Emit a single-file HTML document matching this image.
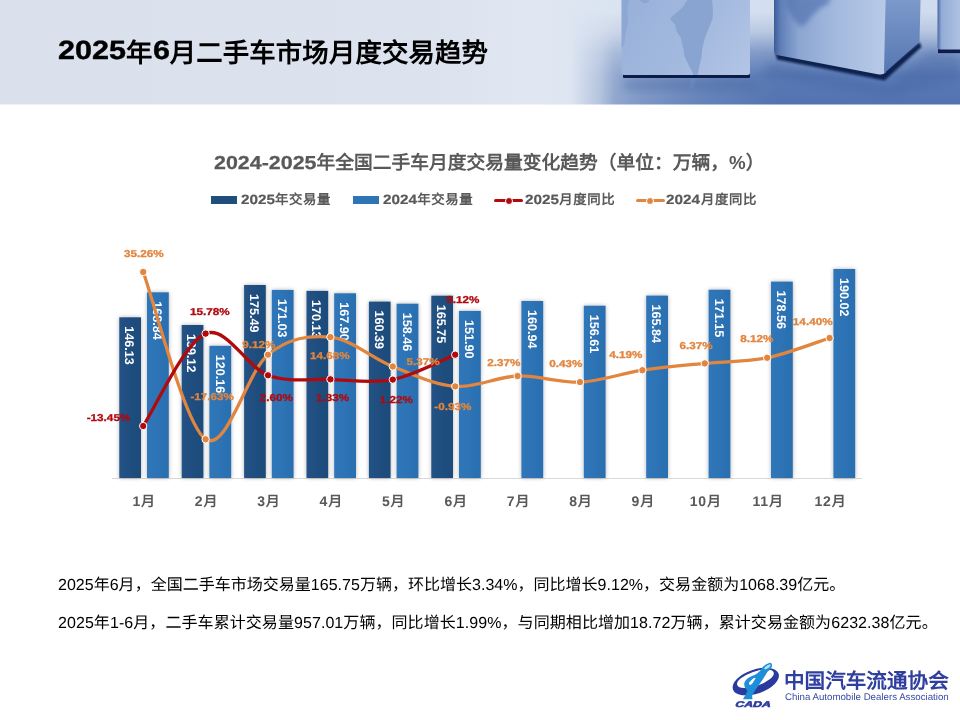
<!DOCTYPE html>
<html lang="zh-CN">
<head>
<meta charset="utf-8">
<title>2025年6月二手车市场月度交易趋势</title>
<style>
html,body{margin:0;padding:0;}
body{width:960px;height:720px;position:relative;overflow:hidden;background:#fff;font-family:"Liberation Sans",sans-serif;color:#000;text-rendering:geometricPrecision;}
b{font-weight:inherit;}
.hdr{position:absolute;left:0;top:0;width:960px;height:105px;overflow:hidden;}
.hdr svg{position:absolute;left:0;top:0;}
h1{position:absolute;left:58px;top:35.2px;letter-spacing:0.15px;margin:0;font-size:26.4px;line-height:36px;font-weight:bold;white-space:nowrap;}
.ctitle{position:absolute;left:214.2px;top:150px;margin:0;font-size:18.75px;line-height:26px;font-weight:bold;color:#595959;white-space:nowrap;}
.legend{position:absolute;top:190.8px;left:0;height:18px;font-size:13.4px;letter-spacing:0.6px;line-height:18px;font-weight:bold;color:#595959;white-space:nowrap;}
.legend span{position:absolute;top:0;}
.legend i{position:absolute;display:block;}
.chart{position:absolute;left:0;top:0;}
.b25{fill:url(#g25);} .b24{fill:url(#g24);}
.bl{font:bold 12.6px "Liberation Sans",sans-serif;fill:#fff;}
.l24{fill:none;stroke:#e1853f;stroke-width:3.3;stroke-linecap:round;stroke-linejoin:round;}
.l25{fill:none;stroke:#b00a0e;stroke-width:3.3;stroke-linecap:round;stroke-linejoin:round;}
.m24{fill:#e1853f;stroke:#fff;stroke-width:1;} .m25{fill:#b00a0e;stroke:#fff;stroke-width:1;}
.y24{font:bold 10px "Liberation Sans",sans-serif;fill:#e1853f;stroke:#e1853f;stroke-width:0.3px;text-anchor:middle;}
.y25{font:bold 10px "Liberation Sans",sans-serif;fill:#b00a0e;stroke:#b00a0e;stroke-width:0.3px;text-anchor:middle;}
.cat{font:bold 14px "Liberation Sans",sans-serif;fill:#595959;text-anchor:middle;letter-spacing:0.8px;}
p{position:absolute;left:58px;margin:0;font-size:16px;line-height:24px;white-space:nowrap;}
.logo{position:absolute;left:725px;top:655px;}
.lcn{position:absolute;left:784.2px;top:668.4px;font-family:"Liberation Serif",serif;font-weight:bold;font-size:20.6px;line-height:28px;color:#2e3f9f;white-space:nowrap;}
.len{position:absolute;left:785px;top:691.2px;font-size:9.7px;line-height:14px;color:#3a4ca6;white-space:nowrap;}
b{display:inline-block;transform-origin:0 50%;letter-spacing:0;}
h1 b{transform:scaleX(1.157);position:relative;top:-3px;-webkit-text-stroke:0.4px #000;} .ctitle b{transform:scaleX(1.143);margin-right:12.8px;-webkit-text-stroke:0.25px #595959;} .legend b{transform:scaleX(1.14);margin-right:4.8px;-webkit-text-stroke:0.2px #595959;}
h1,.ctitle,.legend,p,.lcn,.len,.chart,.logo{will-change:transform;}
</style>
</head>
<body>
<div class="hdr">
<svg width="960" height="105" viewBox="0 0 960 105">
<defs>
<linearGradient id="hb" x1="0" y1="0" x2="960" y2="0" gradientUnits="userSpaceOnUse"><stop offset="0" stop-color="#dbe1ec"/><stop offset="0.45" stop-color="#dce3ee"/><stop offset="0.56" stop-color="#e0e7f2"/><stop offset="0.62" stop-color="#dbe4f1"/><stop offset="0.8" stop-color="#d3deef"/><stop offset="1" stop-color="#cfdbee"/></linearGradient>
<linearGradient id="mh" x1="0" y1="0" x2="960" y2="0" gradientUnits="userSpaceOnUse"><stop offset="0.595" stop-color="#000"/><stop offset="0.625" stop-color="#484848"/><stop offset="0.64" stop-color="#888"/><stop offset="0.667" stop-color="#adadad"/><stop offset="0.73" stop-color="#dcdcdc"/><stop offset="0.81" stop-color="#fff"/></linearGradient>
<linearGradient id="mv" x1="0" y1="0" x2="0" y2="105" gradientUnits="userSpaceOnUse"><stop offset="0.12" stop-color="#000" stop-opacity="1"/><stop offset="0.3" stop-color="#000" stop-opacity="0.8"/><stop offset="0.5" stop-color="#000" stop-opacity="0.35"/><stop offset="0.72" stop-color="#000" stop-opacity="0.06"/><stop offset="1" stop-color="#000" stop-opacity="0"/></linearGradient>
<mask id="fm" maskUnits="userSpaceOnUse" x="0" y="0" width="960" height="105"><rect width="960" height="105" fill="url(#mh)"/><rect width="960" height="105" fill="url(#mv)"/></mask>
<linearGradient id="c1" x1="621" y1="0" x2="750" y2="75" gradientUnits="userSpaceOnUse"><stop offset="0" stop-color="#98b0d9"/><stop offset="0.6" stop-color="#a4badf"/><stop offset="1" stop-color="#b2c5e5"/></linearGradient>
<linearGradient id="c2" x1="774" y1="0" x2="886" y2="0" gradientUnits="userSpaceOnUse"><stop offset="0" stop-color="#3c5b98"/><stop offset="0.06" stop-color="#5f7fb8"/><stop offset="0.22" stop-color="#8ca6d2"/><stop offset="0.55" stop-color="#a3b9de"/><stop offset="1" stop-color="#b9cae8"/></linearGradient>
<linearGradient id="c2s" x1="0" y1="0" x2="0" y2="75" gradientUnits="userSpaceOnUse"><stop offset="0" stop-color="#7c99ca"/><stop offset="1" stop-color="#5576b2"/></linearGradient>
<linearGradient id="c3" x1="937" y1="0" x2="960" y2="0" gradientUnits="userSpaceOnUse"><stop offset="0" stop-color="#3f5f9c"/><stop offset="0.2" stop-color="#93acd6"/><stop offset="1" stop-color="#adc1e2"/></linearGradient>
<filter id="bl5" x="-20%" y="-50%" width="140%" height="200%"><feGaussianBlur stdDeviation="4"/></filter>
<filter id="bl1" x="-5%" y="-50%" width="110%" height="200%"><feGaussianBlur stdDeviation="0.8"/></filter>
<filter id="bl2" x="-10%" y="-10%" width="120%" height="120%"><feGaussianBlur stdDeviation="0.7"/></filter>
<filter id="bl3" x="-20%" y="-20%" width="140%" height="140%"><feGaussianBlur stdDeviation="2.5"/></filter>
<filter id="bl05" x="-5%" y="-50%" width="110%" height="200%"><feGaussianBlur stdDeviation="0.5"/></filter>
</defs>
<rect width="960" height="105" fill="url(#hb)"/>
<rect width="960" height="105" fill="#5273b0" mask="url(#fm)"/>
<path d="M770,62 L890,86 L930,50 L960,56 L960,80 L890,96 L760,76 Z" fill="#3b5d9d" opacity="0.3" filter="url(#bl5)"/>
<path d="M622,80 L752,80 L760,90 L625,90 Z" fill="#43649f" opacity="0.35" filter="url(#bl5)"/>
<!-- cube 1 -->
<rect x="623" y="73.5" width="127" height="4.4" rx="1" fill="#0c1c45" filter="url(#bl05)"/>
<rect x="621.6" y="-6" width="128.4" height="81" rx="2.5" fill="url(#c1)"/>
<g fill="#89a4d1" filter="url(#bl2)">
<path d="M688,-1 L682.5,7.5 L671.3,17 L670.3,19.7 L675,24.4 L676.9,31.9 L680.6,37.5 L683.4,48.8 L684.4,56.3 L688,63.8 L691.9,71.3 L693.5,75 L697.6,75 L699.4,65.6 L701.3,58 L702.2,48.8 L705,37.5 L708.8,28 L712.5,18.8 L713,11 L712,-1 Z"/>
<path d="M621.6,-1 L629,-1 L627.5,10 L628,22 L626,32 L624,45 L621.6,48 Z" opacity="0.7"/>
<path d="M639,-1 L650,-1 L648,2.5 L643,3.5 Z" opacity="0.8"/>
</g>
<path d="M691,78 L697,78 L694,87 L689,89 Z" fill="#6f8fc4" opacity="0.4" filter="url(#bl2)"/>
<!-- cube 2 -->
<path d="M775,51 L882,73 L919.5,42 L921.5,47 L884.5,80.5 L777,59.5 Z" fill="#0f2150" filter="url(#bl1)"/>
<path d="M774,-2 L774,50 Q774,54.5 778,55.3 L879,74.4 Q883,75 885.5,72.5 L885.6,-2 Z" fill="url(#c2)"/>
<path d="M885.6,-2 L884,73.5 L919.5,41.6 L920.6,-2 Z" fill="url(#c2s)"/>
<path d="M784,-4 L832,-4 L828,4 L820,8 L812,16 L806,24 L800,27 L794,20 L788,10 Z" fill="#5677b3" opacity="0.75" filter="url(#bl3)"/>
<!-- cube 3 -->
<rect x="938" y="47.5" width="24" height="5.6" fill="#0e1f49" filter="url(#bl05)"/>
<rect x="937.5" y="-6" width="30" height="55.5" rx="2.5" fill="url(#c3)"/>
<rect x="0" y="104" width="960" height="1" fill="#fff" opacity="0.5"/>
</svg>

</div>
<h1><b style="margin-right:9.3px">2025</b>年<b style="margin-right:2.4px">6</b>月二手车市场月度交易趋势</h1>
<div class="ctitle"><b>2024-2025</b>年全国二手车月度交易量变化趋势（单位：万辆，%）</div>
<div class="legend">
<i style="left:211.2px;top:5px;width:25.5px;height:8px;background:#1f4e7d"></i><span style="left:240.5px"><b>2025</b>年交易量</span>
<i style="left:353px;top:5px;width:25.8px;height:8px;background:#2e75b6"></i><span style="left:382.7px"><b>2024</b>年交易量</span>
<i style="left:494.2px;top:8.2px;width:28.8px;height:3px;background:#b00a0e;border-radius:2px"></i><i style="left:505.6px;top:6.7px;width:6px;height:6px;border-radius:50%;background:#b00a0e;border:1px solid #fff;margin:-1px"></i><span style="left:524.7px"><b>2025</b>月度同比</span>
<i style="left:636.3px;top:8.2px;width:28.5px;height:3px;background:#e1853f;border-radius:2px"></i><i style="left:647.3px;top:6.7px;width:6px;height:6px;border-radius:50%;background:#e1853f;border:1px solid #fff;margin:-1px"></i><span style="left:666.4px"><b>2024</b>月度同比</span>
</div>
<svg class="chart" width="960" height="720" viewBox="0 0 960 720">
<defs>
<linearGradient id="g25" x1="0" y1="0" x2="1" y2="0"><stop offset="0" stop-color="#215285"/><stop offset="1" stop-color="#1e4b7a"/></linearGradient>
<linearGradient id="g24" x1="0" y1="0" x2="1" y2="0"><stop offset="0" stop-color="#2f77ba"/><stop offset="1" stop-color="#2b6fb0"/></linearGradient>
<filter id="sh" x="-40%" y="-5%" width="180%" height="110%"><feGaussianBlur in="SourceAlpha" stdDeviation="2.2"/><feComponentTransfer><feFuncA type="linear" slope="0.3"/></feComponentTransfer><feMerge><feMergeNode/><feMergeNode in="SourceGraphic"/></feMerge></filter>
</defs>
<line x1="112" y1="478.5" x2="862" y2="478.5" stroke="#d9d9d9" stroke-width="1"/>
<g filter="url(#sh)">
<rect class="b24" x="147.0" y="292.3" width="21.8" height="185.7"/>
<rect class="b24" x="209.4" y="345.8" width="21.8" height="132.2"/>
<rect class="b24" x="271.8" y="289.9" width="21.8" height="188.1"/>
<rect class="b24" x="334.2" y="293.3" width="21.8" height="184.7"/>
<rect class="b24" x="396.6" y="303.7" width="21.8" height="174.3"/>
<rect class="b24" x="459.0" y="310.9" width="21.8" height="167.1"/>
<rect class="b24" x="521.4" y="301.0" width="21.8" height="177.0"/>
<rect class="b24" x="583.8" y="305.7" width="21.8" height="172.3"/>
<rect class="b24" x="646.2" y="295.6" width="21.8" height="182.4"/>
<rect class="b24" x="708.6" y="289.7" width="21.8" height="188.3"/>
<rect class="b24" x="771.0" y="281.6" width="21.8" height="196.4"/>
<rect class="b24" x="833.4" y="269.0" width="21.8" height="209.0"/>
<rect class="b25" x="119.3" y="317.3" width="21.7" height="160.7"/>
<rect class="b25" x="181.7" y="325.0" width="21.7" height="153.0"/>
<rect class="b25" x="244.1" y="285.0" width="21.7" height="193.0"/>
<rect class="b25" x="306.5" y="290.9" width="21.7" height="187.1"/>
<rect class="b25" x="368.9" y="301.6" width="21.7" height="176.4"/>
<rect class="b25" x="431.3" y="295.7" width="21.7" height="182.3"/>
</g>
<text class="bl" transform="translate(153.1,301.3) rotate(90)">168.84</text>
<text class="bl" transform="translate(215.5,354.8) rotate(90)">120.16</text>
<text class="bl" transform="translate(277.9,298.9) rotate(90)">171.03</text>
<text class="bl" transform="translate(340.3,302.3) rotate(90)">167.90</text>
<text class="bl" transform="translate(402.7,312.7) rotate(90)">158.46</text>
<text class="bl" transform="translate(465.1,319.9) rotate(90)">151.90</text>
<text class="bl" transform="translate(527.5,310.0) rotate(90)">160.94</text>
<text class="bl" transform="translate(589.9,314.7) rotate(90)">156.61</text>
<text class="bl" transform="translate(652.3,304.6) rotate(90)">165.84</text>
<text class="bl" transform="translate(714.7,298.7) rotate(90)">171.15</text>
<text class="bl" transform="translate(777.1,290.6) rotate(90)">178.56</text>
<text class="bl" transform="translate(839.5,278.0) rotate(90)">190.02</text>
<text class="bl" transform="translate(125.0,326.3) rotate(90)">146.13</text>
<text class="bl" transform="translate(187.4,334.0) rotate(90)">139.12</text>
<text class="bl" transform="translate(249.8,294.0) rotate(90)">175.49</text>
<text class="bl" transform="translate(312.2,299.9) rotate(90)">170.13</text>
<text class="bl" transform="translate(374.6,310.6) rotate(90)">160.39</text>
<text class="bl" transform="translate(437.0,304.7) rotate(90)">165.75</text>
<path class="l24" d="M143.2,272.0 C153.6,299.9 184.8,425.5 205.6,439.3 C226.4,453.0 247.2,371.7 268.0,354.7 C288.8,337.6 309.6,335.1 330.4,337.1 C351.2,339.0 372.0,358.3 392.8,366.5 C413.6,374.7 434.4,384.9 455.2,386.4 C476.0,388.0 496.8,376.7 517.6,376.0 C538.4,375.3 559.2,383.1 580.0,382.1 C600.8,381.2 621.6,373.4 642.4,370.2 C663.2,367.1 684.0,365.4 704.8,363.4 C725.6,361.3 746.4,362.0 767.2,357.8 C788.0,353.6 819.2,341.3 829.6,338.0"/>
<path class="l25" d="M143.2,426.0 C153.6,410.6 184.8,342.0 205.6,333.6 C226.4,325.1 247.2,367.7 268.0,375.3 C288.8,382.9 309.6,378.6 330.4,379.3 C351.2,380.0 372.0,383.7 392.8,379.6 C413.6,375.5 444.8,358.8 455.2,354.7"/>
<circle class="m24" cx="143.2" cy="272.0" r="3.7"/><circle class="m24" cx="205.6" cy="439.3" r="3.7"/><circle class="m24" cx="268.0" cy="354.7" r="3.7"/><circle class="m24" cx="330.4" cy="337.1" r="3.7"/><circle class="m24" cx="392.8" cy="366.5" r="3.7"/><circle class="m24" cx="455.2" cy="386.4" r="3.7"/><circle class="m24" cx="517.6" cy="376.0" r="3.7"/><circle class="m24" cx="580.0" cy="382.1" r="3.7"/><circle class="m24" cx="642.4" cy="370.2" r="3.7"/><circle class="m24" cx="704.8" cy="363.4" r="3.7"/><circle class="m24" cx="767.2" cy="357.8" r="3.7"/><circle class="m24" cx="829.6" cy="338.0" r="3.7"/>
<circle class="m25" cx="143.2" cy="426.0" r="3.7"/><circle class="m25" cx="205.6" cy="333.6" r="3.7"/><circle class="m25" cx="268.0" cy="375.3" r="3.7"/><circle class="m25" cx="330.4" cy="379.3" r="3.7"/><circle class="m25" cx="392.8" cy="379.6" r="3.7"/><circle class="m25" cx="455.2" cy="354.7" r="3.7"/>
<text class="y24" transform="translate(143.8,256.8) scale(1.17,1)">35.26%</text><text class="y24" transform="translate(212.2,399.5) scale(1.17,1)">-17.63%</text><text class="y24" transform="translate(258.8,348.0) scale(1.17,1)">9.12%</text><text class="y24" transform="translate(329.8,358.8) scale(1.17,1)">14.68%</text><text class="y24" transform="translate(423.1,365.0) scale(1.17,1)">5.37%</text><text class="y24" transform="translate(452.9,410.0) scale(1.17,1)">-0.93%</text><text class="y24" transform="translate(503.8,365.8) scale(1.17,1)">2.37%</text><text class="y24" transform="translate(565.9,367.0) scale(1.17,1)">0.43%</text><text class="y24" transform="translate(625.9,357.5) scale(1.17,1)">4.19%</text><text class="y24" transform="translate(696.0,348.8) scale(1.17,1)">6.37%</text><text class="y24" transform="translate(756.8,341.7) scale(1.17,1)">8.12%</text><text class="y24" transform="translate(812.7,324.6) scale(1.17,1)">14.40%</text>
<text class="y25" transform="translate(108.5,421.2) scale(1.17,1)">-13.45%</text><text class="y25" transform="translate(209.9,314.7) scale(1.17,1)">15.78%</text><text class="y25" transform="translate(276.2,401.0) scale(1.17,1)">2.60%</text><text class="y25" transform="translate(332.5,401.0) scale(1.17,1)">1.33%</text><text class="y25" transform="translate(396.2,403.0) scale(1.17,1)">1.22%</text><text class="y25" transform="translate(462.9,303.0) scale(1.17,1)">9.12%</text>
<text class="cat" x="144.1" y="506">1月</text><text class="cat" x="206.5" y="506">2月</text><text class="cat" x="268.9" y="506">3月</text><text class="cat" x="331.3" y="506">4月</text><text class="cat" x="393.7" y="506">5月</text><text class="cat" x="456.1" y="506">6月</text><text class="cat" x="518.5" y="506">7月</text><text class="cat" x="580.9" y="506">8月</text><text class="cat" x="643.3" y="506">9月</text><text class="cat" x="705.7" y="506">10月</text><text class="cat" x="768.1" y="506">11月</text><text class="cat" x="830.5" y="506">12月</text>
</svg>
<p style="top:574.2px;letter-spacing:0.02px">2025年6月，全国二手车市场交易量165.75万辆，环比增长3.34%，同比增长9.12%，交易金额为1068.39亿元。</p>
<p style="top:612.2px;letter-spacing:0.07px">2025年1-6月，二手车累计交易量957.01万辆，同比增长1.99%，与同期相比增加18.72万辆，累计交易金额为6232.38亿元。</p>
<svg class="logo" width="60" height="60" viewBox="0 0 60 60">
<g transform="rotate(-19 30.6 26.3)">
<path fill="#2b3a9d" fill-rule="evenodd" d="M6.5,26.6 a24.2,12 0 1,0 48.4,0 a24.2,12 0 1,0 -48.4,0 Z M12,23.8 a19.3,7.2 0 1,1 38.6,0 a19.3,7.2 0 1,1 -38.6,0 Z"/>
</g>
<path fill="#1d8fd8" fill-rule="evenodd" d="M35.4,15.4 C37,12 40,9.5 44.2,7.9 C46,7.6 47.3,8.6 47.1,10.8 C46.5,13.5 44,15.8 42.5,16.7 L37.9,24.2 L33.3,30.8 L29.2,36.7 L27.1,40.8 L27.5,44.2 L17.9,44.2 L20.8,39.2 L22.5,35.8 C20,33.5 19,31 19.2,28.3 C20,25 23,22.5 27.5,20.8 C30.5,19.7 33,18 35.4,15.4 Z M24.2,27.5 C25.5,25.5 27.5,23.8 29.2,22.9 L30.8,22.9 L27.5,28.3 C26.5,29.5 25.5,30 25,30 C24,29.5 23.8,28.5 24.2,27.5 Z"/>
<path fill="#d6ecfa" d="M39.2,13.3 C40,11.6 43,9.6 45.4,9.2 C45.8,10 45.4,11 45,11.4 C44,12.6 42,14 39.6,14.6 Z" opacity="0.85"/>
<text transform="translate(9.6,51.7) scale(1.5,1) skewX(-14)" style="font:bold 8.2px 'Liberation Sans',sans-serif;fill:#2b3a9d;stroke:#2b3a9d;stroke-width:0.5px;letter-spacing:0px">CADA</text>
</svg>

<div class="lcn">中国汽车流通协会</div>
<div class="len">China Automobile Dealers Association</div>
</body>
</html>
